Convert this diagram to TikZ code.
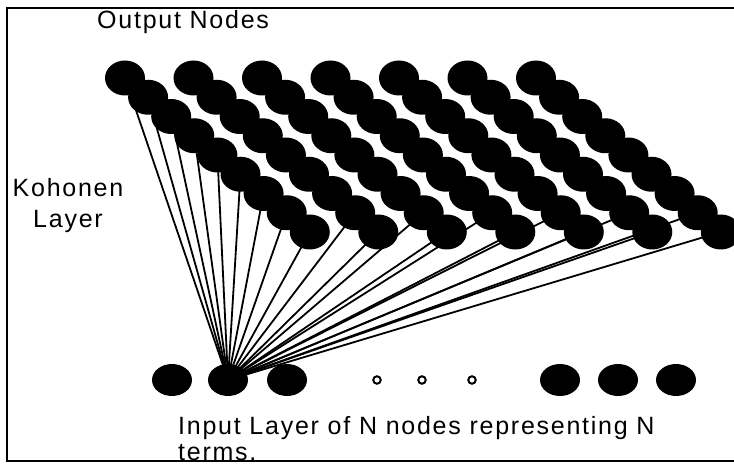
\documentclass[tikz,border=0pt]{standalone}
\usepackage{fontspec}
\setmainfont{Liberation Sans}
\usetikzlibrary{shapes.geometric,backgrounds}

\begin{document}
\begin{tikzpicture}[x=1pt, y=-1pt,
    kohonen/.style={ellipse, fill=black, inner sep=0pt, minimum width=40pt, minimum height=35pt},
    inputnode/.style={ellipse, fill=black, inner sep=0pt, minimum width=40pt, minimum height=32pt},
    gapdot/.style={circle, draw=black, line width=2pt, inner sep=0pt, minimum size=7.5pt},
    link/.style={black, line width=1.8pt},
    layertext/.style={font=\fontsize{25}{30}\selectfont\addfontfeature{LetterSpace=7}, inner sep=0pt}]
    \useasboundingbox (0,0) rectangle (734,465);

    % Frame, open on the right
    \draw[line width=2pt] (734,8) -- (7,8) -- (7,461) -- (734,461);

    % Kohonen layer: 7 diagonal chains of 9 nodes
    \foreach \k in {0,...,6}
        \foreach \j in {0,...,8}
            \node[kohonen] (k\k-\j) at ({125+68.5*\k+23.1*\j}, {78+19.25*\j}) {};

    % Input layer
    \foreach \x [count=\i] in {172,228,287}
        \node[inputnode] (in\i) at (\x,380) {};
    \foreach \x [count=\i] in {377,422,472}
        \node[gapdot] (gap\i) at (\x,380) {};
    \foreach \x [count=\i from 4] in {560,618,676}
        \node[inputnode] (in\i) at (\x,380) {};

    % Weights from the second input node
    \begin{scope}[on background layer]
        \foreach \j in {0,...,8}
            \draw[link] (in2.center) -- (k0-\j.center);
        \foreach \k in {1,...,6}
            \foreach \j in {7,8}
                \draw[link] (in2.center) -- (k\k-\j.center);
    \end{scope}

    % Labels (base anchor sits on the last line)
    \node[layertext, anchor=base west] (outlbl) at (97,29) {Output Nodes};
    \node[layertext, align=center, anchor=base] (kohlbl) at (68,228) {Kohonen\\[1pt]Layer};
    \node[layertext, align=left, anchor=base west] (inlbl) at (178,460) {Input Layer of N nodes representing N\\[-4pt]terms.};
\end{tikzpicture}
\end{document}
